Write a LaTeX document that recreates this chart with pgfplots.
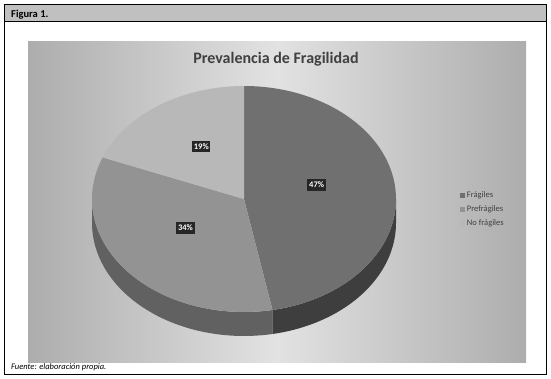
\documentclass[border=0pt]{standalone}
\usepackage{pgfplots}
\pgfplotsset{compat=1.18}
\usepgfplotslibrary{fillbetween}
\usepackage{pgfplotstable}
\usepackage{fontspec}
\setmainfont{Carlito}

\definecolor{cFrag}{HTML}{707070}
\definecolor{cPre}{HTML}{939393}
\definecolor{cNo}{HTML}{B8B8B8}
\definecolor{sFrag}{HTML}{3E3E3E}
\definecolor{sPre}{HTML}{616161}
\definecolor{labbg}{HTML}{262626}
\definecolor{hdr}{HTML}{C0C0C0}
\definecolor{bgEdge}{HTML}{ADADAD}
\definecolor{bgMid}{HTML}{E2E2E2}
\definecolor{titlec}{HTML}{404040}
\definecolor{legc}{HTML}{404040}

\pgfplotstableread[col sep=comma]{
label,value
Frágiles,47
Prefrágiles,34
No frágiles,19
}\piedata

\begin{document}
\begin{tikzpicture}
\pgfplotstablegetelem{0}{value}\of\piedata \let\vA\pgfplotsretval
\pgfplotstablegetelem{1}{value}\of\piedata \let\vB\pgfplotsretval
\pgfplotstablegetelem{2}{value}\of\piedata \let\vC\pgfplotsretval
\pgfmathsetmacro\aA{\vA*3.6}
\pgfmathsetmacro\aB{(\vA+\vB)*3.6}
\pgfmathsetmacro\mA{\vA*1.8}
\pgfmathsetmacro\mB{(\vA+\vB/2)*3.6}
\pgfmathsetmacro\mC{(\vA+\vB+\vC/2)*3.6}
\def\cx{244}\def\cy{199}\def\rx{152}\def\ry{113}\def\dep{24}
\pgfmathsetmacro\lAx{\cx+0.48*\rx*sin(\mA)}\pgfmathsetmacro\lAy{\cy-0.48*\ry*cos(\mA)-9}
\pgfmathsetmacro\lBx{\cx+0.5*\rx*sin(\mB)}\pgfmathsetmacro\lBy{\cy-0.5*\ry*cos(\mB)-7}
\pgfmathsetmacro\lCx{\cx+0.5*\rx*sin(\mC)}\pgfmathsetmacro\lCy{\cy-0.5*\ry*cos(\mC)-6}
\begin{axis}[
  width=551pt, height=378pt, scale only axis,
  xmin=0, xmax=551, ymin=0, ymax=378, y dir=reverse,
  hide axis, clip=false,
  fill between/on layer=main,
  legend style={at={(axis cs:460,190)}, anchor=north west, draw=none, fill=none,
    font=\fontsize{8.5}{9}\selectfont\color{legc}, row sep=3.5pt,
    inner sep=0pt, nodes={inner sep=1.5pt}},
  legend cell align=left,
  legend image code/.code={\fill[#1, draw=none] (0pt,-2.6pt) rectangle (5.2pt,2.6pt);},
]
% outer frame and header
\draw[line width=1pt] (axis cs:4,5) rectangle (axis cs:546,374);
\filldraw[fill=hdr, line width=1pt] (axis cs:4,5) rectangle (axis cs:546,22);
\node[anchor=base west, font=\bfseries\fontsize{10.5}{12}\selectfont, inner sep=0pt] at (axis cs:11,18) {Figura 1.};
% chart area
\path[left color=bgEdge, right color=bgEdge, middle color=bgMid] (axis cs:28,42) rectangle (axis cs:526,362);
\node[font=\bfseries\fontsize{16}{18}\selectfont, text=titlec] at (axis cs:276,59) {Prevalencia de Fragilidad};
\node[anchor=base west, font=\itshape\fontsize{8.5}{10}\selectfont, inner sep=0pt] at (axis cs:11,369.5) {Fuente: elaboración propia.};

% side walls
\addplot[name path=s1t, draw=none, domain=90:\aA, samples=50, variable=\t, forget plot] ({\cx+\rx*sin(t)},{\cy-\ry*cos(t)});
\addplot[name path=s1b, draw=none, domain=90:\aA, samples=50, variable=\t, forget plot] ({\cx+\rx*sin(t)},{\cy-\ry*cos(t)+\dep});
\addplot[fill=sFrag, draw=none, forget plot] fill between[of=s1t and s1b];
\addplot[name path=s2t, draw=none, domain=\aA:270, samples=50, variable=\t, forget plot] ({\cx+\rx*sin(t)},{\cy-\ry*cos(t)});
\addplot[name path=s2b, draw=none, domain=\aA:270, samples=50, variable=\t, forget plot] ({\cx+\rx*sin(t)},{\cy-\ry*cos(t)+\dep});
\addplot[fill=sPre, draw=none, forget plot] fill between[of=s2t and s2b];

% top faces
\addplot[fill=cFrag, draw=none, domain=0:\aA, samples=90, variable=\t, forget plot] ({\cx+\rx*sin(t)},{\cy-\ry*cos(t)}) -- (axis cs:\cx,\cy) -- cycle;
\addplot[fill=cPre, draw=none, domain=\aA:\aB, samples=70, variable=\t, forget plot] ({\cx+\rx*sin(t)},{\cy-\ry*cos(t)}) -- (axis cs:\cx,\cy) -- cycle;
\addplot[fill=cNo, draw=none, domain=\aB:360, samples=50, variable=\t, forget plot] ({\cx+\rx*sin(t)},{\cy-\ry*cos(t)}) -- (axis cs:\cx,\cy) -- cycle;

% labels
\tikzset{lab/.style={fill=labbg, text=white, font=\bfseries\fontsize{8.5}{9}\selectfont, inner sep=1.8pt, minimum height=11.5pt}}
\node[lab] at (axis cs:\lAx,\lAy) {\vA\%};
\node[lab] at (axis cs:\lBx,\lBy) {\vB\%};
\node[lab] at (axis cs:\lCx,\lCy) {\vC\%};

% legend
\addlegendimage{fill=cFrag}\addlegendentry{Frágiles}
\addlegendimage{fill=cPre}\addlegendentry{Prefrágiles}
\addlegendimage{fill=cNo}\addlegendentry{No frágiles}
\end{axis}
\pgfresetboundingbox
\path (0,0) rectangle (551pt,378pt);
\end{tikzpicture}
\end{document}
